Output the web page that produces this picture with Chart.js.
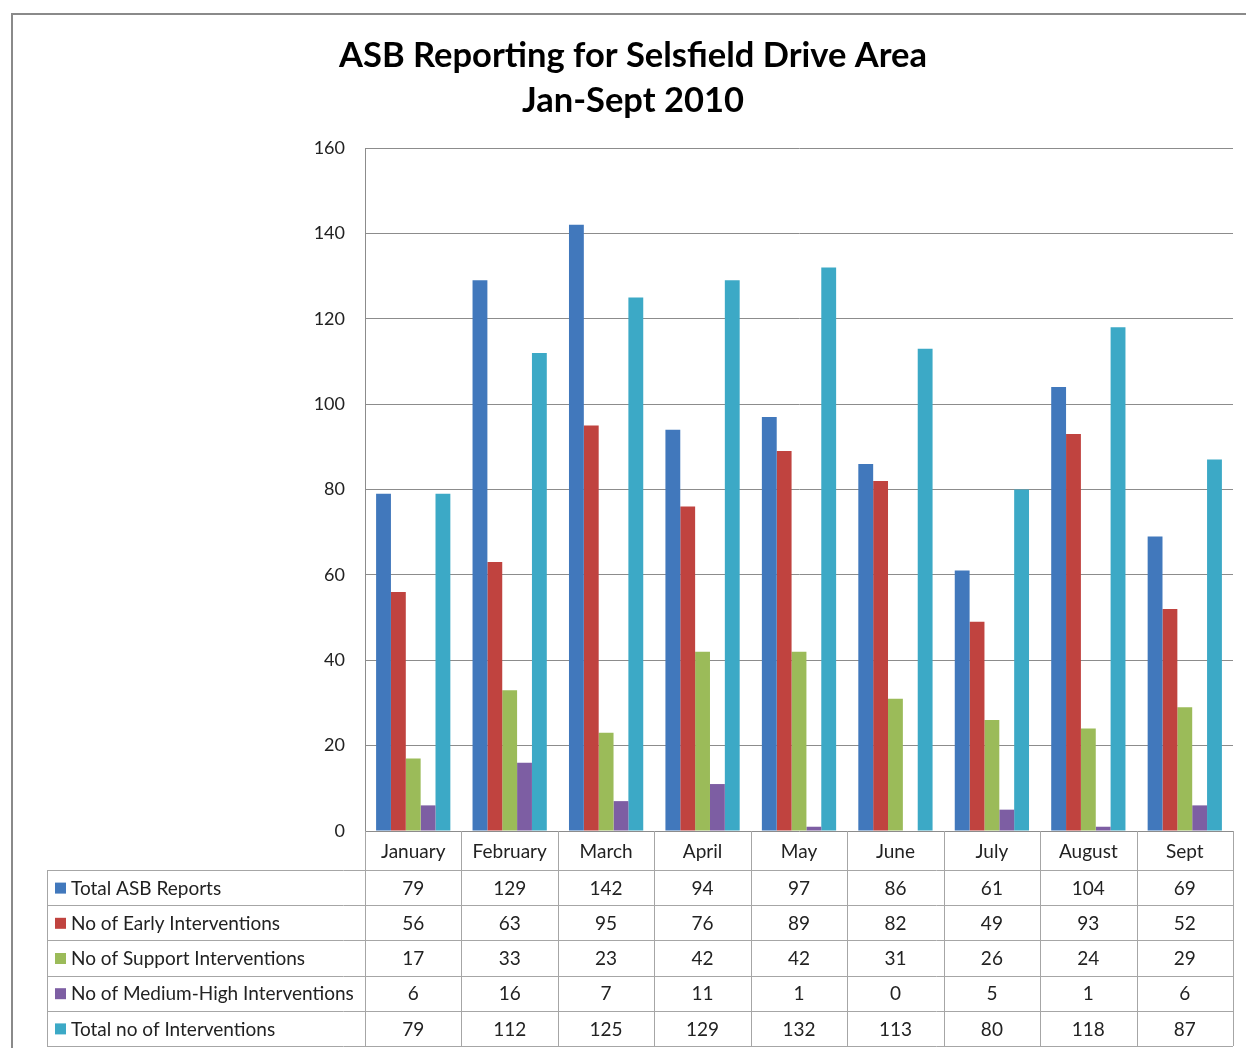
<!DOCTYPE html>
<html>
<head>
<meta charset="utf-8">
<script src="https://cdn.jsdelivr.net/npm/chart.js@4.4.0/dist/chart.umd.min.js"></script>
<style>
  html, body { margin: 0; padding: 0; background: #fff; overflow: hidden; }
  #wrap { position: relative; width: 1246px; height: 1048px; }
</style>
</head>
<body>
<div id="wrap"><canvas id="chart"></canvas></div>
<script>
const months = ['January', 'February', 'March', 'April', 'May', 'June', 'July', 'August', 'Sept']
const totalReports = [79, 129, 142, 94, 97, 86, 61, 104, 69]
const earlyInterventions = [56, 63, 95, 76, 89, 82, 49, 93, 52]
const supportInterventions = [17, 33, 23, 42, 42, 31, 26, 24, 29]
const mediumHighInterventions = [6, 16, 7, 11, 1, 0, 5, 1, 6]
const totalInterventions = [79, 112, 125, 129, 132, 113, 80, 118, 87]
const seriesNames = [
  'Total ASB Reports',
  'No of Early Interventions',
  'No of Support Interventions',
  'No of Medium-High Interventions',
  'Total no of Interventions'
]
const seriesColors = ['#4178BC', '#C0433F', '#9BBB59', '#7D5EA3', '#3CA9C6']
const yMin = 0
const yMax = 160
const yStep = 20

const seriesValues = [totalReports, earlyInterventions, supportInterventions, mediumHighInterventions, totalInterventions]
const FONT = 'Lato, "Open Sans", sans-serif'

// frame round the whole chart object
const framePlugin = {
  id: 'frame',
  beforeDraw(chart) {
    const ctx = chart.ctx
    ctx.save()
    ctx.fillStyle = '#fff'
    ctx.fillRect(0, 0, chart.width, chart.height)
    ctx.strokeStyle = '#8a8a8a'
    ctx.lineWidth = 2
    ctx.beginPath()
    ctx.moveTo(12, chart.height)
    ctx.lineTo(12, 14)
    ctx.lineTo(chart.width, 14)
    ctx.stroke()
    ctx.restore()
  }
}

// data table under the plot, laid out from the x scale
const tablePlugin = {
  id: 'dataTable',
  afterDraw(chart) {
    const ctx = chart.ctx
    const x = chart.scales.x
    const area = chart.chartArea
    const cw = (x.right - x.left) / months.length
    const headerBottom = area.bottom + 39
    const rowH = 35.2
    const tableLeft = 47
    const tableBottom = headerBottom + rowH * seriesNames.length

    ctx.save()
    ctx.strokeStyle = '#a6a6a6'
    ctx.lineWidth = 1
    ctx.beginPath()
    for (let i = 0; i <= months.length; i++) {
      const px = Math.round(x.left + i * cw) + 0.5
      ctx.moveTo(px, area.bottom)
      ctx.lineTo(px, tableBottom)
    }
    ctx.moveTo(tableLeft + 0.5, headerBottom)
    ctx.lineTo(tableLeft + 0.5, tableBottom)
    for (let r = 0; r <= seriesNames.length; r++) {
      const py = Math.round(headerBottom + r * rowH) + 0.5
      ctx.moveTo(tableLeft, py)
      ctx.lineTo(x.right, py)
    }
    ctx.stroke()

    ctx.fillStyle = '#222'
    ctx.font = '19px ' + FONT
    ctx.textBaseline = 'middle'
    ctx.textAlign = 'center'
    months.forEach((m, i) => {
      ctx.fillText(m, x.getPixelForValue(i), (area.bottom + headerBottom) / 2 + 1)
    })

    seriesNames.forEach((name, r) => {
      const cy = headerBottom + r * rowH + rowH / 2 + 1
      ctx.fillStyle = seriesColors[r]
      ctx.fillRect(tableLeft + 8, cy - 6, 11, 11)
      ctx.fillStyle = '#222'
      ctx.textAlign = 'left'
      ctx.fillText(name, tableLeft + 24, cy)
      ctx.textAlign = 'center'
      seriesValues[r].forEach((v, i) => {
        ctx.fillText(String(v), x.getPixelForValue(i), cy)
      })
    })
    ctx.restore()
  }
}

new Chart(document.getElementById('chart'), {
  type: 'bar',
  data: {
    labels: months,
    datasets: seriesNames.map((name, i) => ({
      label: name,
      data: seriesValues[i],
      backgroundColor: seriesColors[i],
      borderWidth: 0,
      categoryPercentage: 0.77,
      barPercentage: 1.0
    }))
  },
  options: {
    responsive: true,
    maintainAspectRatio: false,
    animation: false,
    layout: {
      padding: { top: 0, right: 13, bottom: 0, left: 33 }
    },
    plugins: {
      legend: { display: false },
      title: {
        display: true,
        text: ['ASB Reporting for Selsfield Drive Area', 'Jan-Sept 2010'],
        color: '#000',
        font: { family: FONT, size: 34.5, weight: 'bold', lineHeight: '45px' },
        padding: { top: 33, bottom: 25 }
      }
    },
    scales: {
      x: {
        grid: { display: false },
        border: { display: false },
        ticks: { display: false },
        afterFit(scale) { scale.height = 217 }
      },
      y: {
        min: yMin,
        max: yMax,
        ticks: {
          stepSize: yStep,
          padding: 20,
          color: '#222',
          font: { family: FONT, size: 18 }
        },
        grid: { color: '#8c8c8c', drawTicks: false },
        border: { display: true, color: '#8c8c8c' },
        afterFit(scale) { scale.width = 332 }
      }
    }
  },
  plugins: [framePlugin, tablePlugin]
})
</script>
</body>
</html>
